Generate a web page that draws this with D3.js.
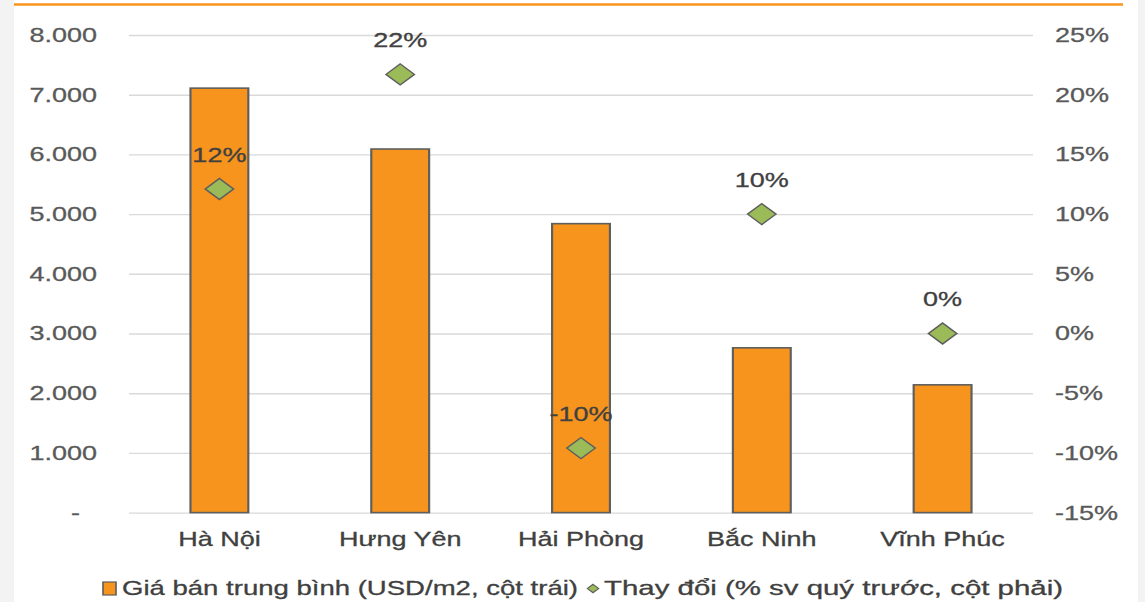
<!DOCTYPE html>
<html><head><meta charset="utf-8">
<script src="https://cdn.jsdelivr.net/npm/d3@7"></script>
<style>html,body{margin:0;padding:0;background:#fff;overflow:hidden;} svg{display:block;}</style>
</head><body>
<svg id="chart"></svg>
<script>
const categories = ["Hà Nội", "Hưng Yên", "Hải Phòng", "Bắc Ninh", "Vĩnh Phúc"];
const priceValues = [7110, 6090, 4840, 2760, 2140];
const changeValues = [12.1, 21.7, -9.6, 10.0, 0.0];
const changeLabels = ["12%", "22%", "-10%", "10%", "0%"];
const leftTicks = [0, 1000, 2000, 3000, 4000, 5000, 6000, 7000, 8000];
const leftTickLabels = ["-", "1.000", "2.000", "3.000", "4.000", "5.000", "6.000", "7.000", "8.000"];
const rightTicks = [-15, -10, -5, 0, 5, 10, 15, 20, 25];
const rightTickLabels = ["-15%", "-10%", "-5%", "0%", "5%", "10%", "15%", "20%", "25%"];
const legendLabels = ["Giá bán trung bình (USD/m2, cột trái)", "Thay đổi (% sv quý trước, cột phải)"];

const W = 1145, H = 602;
const k = 1.35;               // horizontal stretch of the original picture
const VW = W / k;
const ux = px => px / k;

const svg = d3.select("#chart")
  .attr("width", W).attr("height", H)
  .attr("viewBox", `0 0 ${VW} ${H}`)
  .attr("preserveAspectRatio", "none");

const FONT = "'Liberation Sans', Arial, sans-serif";
const ORANGE = "#f7941d", GREEN = "#9bbb59", EDGE = "#5e5e5e";
const styleText = (sel, fill) => sel.attr("font-family", FONT).attr("font-size", 20)
  .attr("fill", fill).attr("stroke", fill).attr("stroke-width", 0.3);

// background frame
svg.append("rect").attr("x", 0).attr("y", 0).attr("width", VW).attr("height", H).attr("fill", "#f3f3f3");
svg.append("rect").attr("x", ux(14)).attr("y", 0).attr("width", ux(1138) - ux(14)).attr("height", H).attr("fill", "#ffffff");
svg.append("line").attr("x1", ux(14)).attr("x2", ux(1123)).attr("y1", 4.5).attr("y2", 4.5)
  .attr("stroke", ORANGE).attr("stroke-width", 2.5);

const plotL = ux(129), plotR = ux(1033);
const yTop = 35, yBot = 512.6;

const x = d3.scaleBand().domain(categories).range([plotL, plotR]).padding(0);
const yL = d3.scaleLinear().domain([0, 8000]).range([yBot, yTop]);
const yR = d3.scaleLinear().domain([-15, 25]).range([yBot, yTop]);

// gridlines
const grid = svg.append("g").attr("transform", `translate(${plotL},0)`)
  .call(d3.axisLeft(yL).tickValues(leftTicks).tickSize(-(plotR - plotL)).tickFormat(""));
grid.select(".domain").remove();
grid.selectAll(".tick line").attr("stroke", "#d9d9d9").attr("stroke-width", 1.4);

// left axis
const axL = svg.append("g").attr("transform", `translate(${plotL},0)`)
  .call(d3.axisLeft(yL).tickValues(leftTicks).tickFormat((d, i) => leftTickLabels[i])
    .tickSize(0).tickPadding(ux(129) - ux(97)));
axL.select(".domain").remove();
styleText(axL.selectAll("text"), "#595959").attr("dx", (d, i) => i === 0 ? -ux(17) : 0);

// right axis
const axR = svg.append("g").attr("transform", `translate(${plotR},0)`)
  .call(d3.axisRight(yR).tickValues(rightTicks).tickFormat((d, i) => rightTickLabels[i])
    .tickSize(0).tickPadding(ux(1055) - ux(1033)));
axR.select(".domain").remove();
styleText(axR.selectAll("text"), "#595959");

// category axis
const axX = svg.append("g").attr("transform", `translate(0,${yBot})`)
  .call(d3.axisBottom(x).tickSize(0).tickPadding(19));
axX.select(".domain").remove();
styleText(axX.selectAll("text"), "#404040");

// bars
const barFrac = 0.32;
const bw = x.bandwidth() * barFrac;
svg.append("g").selectAll("rect").data(priceValues).join("rect")
  .attr("x", (d, i) => x(categories[i]) + (x.bandwidth() - bw) / 2)
  .attr("y", d => yL(d))
  .attr("width", bw)
  .attr("height", d => yL(0) - yL(d))
  .attr("fill", ORANGE).attr("stroke", EDGE).attr("stroke-width", 1.6);

// diamonds
const ds = 10.5;
const diamond = (cx, cy, s) => `M${cx},${cy - s}L${cx + s},${cy}L${cx},${cy + s}L${cx - s},${cy}Z`;
const cxOf = i => x(categories[i]) + x.bandwidth() / 2;
svg.append("g").selectAll("path").data(changeValues).join("path")
  .attr("d", (d, i) => diamond(cxOf(i), yR(d), ds))
  .attr("fill", GREEN).attr("stroke", EDGE).attr("stroke-width", 1.3);

// data labels
styleText(svg.append("g").selectAll("text").data(changeValues).join("text")
  .attr("x", (d, i) => cxOf(i))
  .attr("y", d => yR(d) - 27)
  .attr("text-anchor", "middle")
  .text((d, i) => changeLabels[i]), "#404040");

// legend
const lg = svg.append("g");
lg.append("rect").attr("x", ux(103)).attr("y", 582).attr("width", ux(116) - ux(103)).attr("height", 13)
  .attr("fill", ORANGE).attr("stroke", EDGE).attr("stroke-width", 1.2);
styleText(lg.append("text").attr("x", ux(122)).attr("y", 595)
  .attr("textLength", ux(578) - ux(122)).attr("lengthAdjust", "spacingAndGlyphs")
  .text(legendLabels[0]), "#404040");
lg.append("path").attr("d", diamond(ux(593), 588.5, 4.2))
  .attr("fill", GREEN).attr("stroke", EDGE).attr("stroke-width", 1);
styleText(lg.append("text").attr("x", ux(604)).attr("y", 595)
  .attr("textLength", ux(1063) - ux(604)).attr("lengthAdjust", "spacingAndGlyphs")
  .text(legendLabels[1]), "#404040");
</script>
</body></html>
